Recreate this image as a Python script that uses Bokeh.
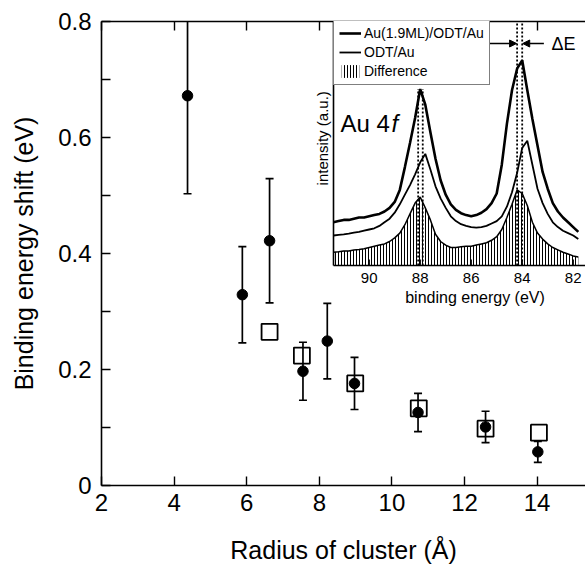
import numpy as np
from bokeh.plotting import figure
from bokeh.models import (Range1d, LinearAxis, FixedTicker, CustomJSTickFormatter,
                          Legend, LegendItem, Arrow, NormalHead)
from bokeh.core.properties import value
from bokeh.embed import file_html
from bokeh.resources import INLINE

# ---------------- main plot data ----------------
radius_exp = [4.37, 5.88, 6.63, 7.55, 8.22, 8.97, 10.72, 12.58, 14.02]
shift_exp = [0.672, 0.329, 0.422, 0.197, 0.249, 0.176, 0.126, 0.101, 0.058]
shift_err = [0.169, 0.083, 0.107, 0.050, 0.065, 0.045, 0.033, 0.027, 0.018]
radius_calc = [6.63, 7.52, 8.99, 10.74, 12.58, 14.05]
shift_calc = [0.265, 0.224, 0.176, 0.133, 0.098, 0.091]
x_ticks = [2, 4, 6, 8, 10, 12, 14]
y_ticks = [0, 0.2, 0.4, 0.6, 0.8]
y_minor = [0.1, 0.3, 0.5, 0.7]

# ---------------- inset data (Au 4f spectra) ----------------
energy = [91.4, 91.2, 91.0, 90.8, 90.6, 90.4, 90.2, 90.0, 89.8, 89.6,
          89.4, 89.2, 89.0, 88.8, 88.6, 88.4, 88.2, 88.0, 87.8, 87.6,
          87.4, 87.2, 87.0, 86.8, 86.6, 86.4, 86.2, 86.0, 85.8, 85.6,
          85.4, 85.2, 85.0, 84.8, 84.6, 84.4, 84.2, 84.0, 83.8, 83.6,
          83.4, 83.2, 83.0, 82.8, 82.6, 82.4, 82.2, 82.0, 81.8]
intensity_cluster = [0.180, 0.185, 0.190, 0.190, 0.195, 0.200, 0.200, 0.205, 0.210, 0.215,
                     0.225, 0.240, 0.265, 0.315, 0.410, 0.510, 0.615, 0.735, 0.670, 0.555,
                     0.445, 0.355, 0.295, 0.255, 0.232, 0.218, 0.210, 0.205, 0.210, 0.220,
                     0.235, 0.260, 0.300, 0.420, 0.590, 0.730, 0.820, 0.855, 0.730, 0.610,
                     0.500, 0.390, 0.320, 0.260, 0.225, 0.200, 0.180, 0.160, 0.140]
intensity_odt = [0.125, 0.128, 0.130, 0.133, 0.137, 0.140, 0.145, 0.150, 0.155, 0.165,
                 0.180, 0.195, 0.220, 0.255, 0.295, 0.335, 0.380, 0.430, 0.465, 0.400,
                 0.330, 0.280, 0.240, 0.205, 0.185, 0.172, 0.165, 0.160, 0.158, 0.160,
                 0.165, 0.175, 0.185, 0.205, 0.245, 0.305, 0.385, 0.490, 0.520, 0.420,
                 0.320, 0.260, 0.215, 0.180, 0.160, 0.145, 0.135, 0.125, 0.110]
intensity_diff = [0.055, 0.057, 0.060, 0.060, 0.065, 0.067, 0.070, 0.075, 0.080, 0.085,
                  0.090, 0.100, 0.115, 0.135, 0.170, 0.215, 0.260, 0.285, 0.240, 0.190,
                  0.130, 0.100, 0.085, 0.075, 0.075, 0.078, 0.080, 0.080, 0.085, 0.090,
                  0.095, 0.105, 0.120, 0.150, 0.200, 0.255, 0.315, 0.300, 0.250, 0.180,
                  0.135, 0.110, 0.090, 0.075, 0.065, 0.055, 0.048, 0.040, 0.035]
inset_ticks = [90, 88, 86, 84, 82]
peak_marks_5_2 = [88.08, 87.90]   # Au 4f5/2 dotted markers
peak_marks_7_2 = [84.20, 84.00]   # Au 4f7/2 dotted markers (Delta E)

FONT = "Liberation Sans"

# ---------------- layout ----------------
W, H = 585, 569
BL, BR, BT, BB = 101, 0, 21, 84
FW, FH = W - BL - BR, H - BT - BB
PX_PER_R = 36.3

# inset geometry (in frame pixels)
INSET_LEFT_PX = 232
INSET_BOTTOM_PX = 244
PX_PER_EV = 25.5
EV_LEFT = 91.4
PX_PER_I = 240.0
ix_start = EV_LEFT + INSET_LEFT_PX / PX_PER_EV
ix_end = EV_LEFT - (FW - INSET_LEFT_PX) / PX_PER_EV
iy_end = INSET_BOTTOM_PX / PX_PER_I
iy_start = -(FH - INSET_BOTTOM_PX) / PX_PER_I

p = figure(width=W, height=H, output_backend="svg", toolbar_location=None,
           x_range=Range1d(2, 2 + FW / PX_PER_R), y_range=Range1d(0, 0.8),
           min_border_left=BL, min_border_right=BR, min_border_top=BT, min_border_bottom=BB,
           x_axis_label="Radius of cluster (Å)", y_axis_label="Binding energy shift (eV)")
p.extra_x_ranges = {"ix": Range1d(ix_start, ix_end)}
p.extra_y_ranges = {"iy": Range1d(iy_start, iy_end)}
p.xgrid.visible = False
p.ygrid.visible = False
p.outline_line_color = None
p.background_fill_color = "white"
p.border_fill_color = "white"

for ax in (p.xaxis[0], p.yaxis[0]):
    ax.axis_line_width = 1.6
    ax.major_tick_line_width = 1.4
    ax.minor_tick_line_width = 1.4
    ax.major_tick_in = 9
    ax.major_tick_out = 0
    ax.minor_tick_out = 0
    ax.major_label_text_font = FONT
    ax.major_label_text_font_size = "24px"
    ax.major_label_text_color = "black"
    ax.axis_label_text_font = FONT
    ax.axis_label_text_font_size = "25px"
    ax.axis_label_text_font_style = "normal"
    ax.axis_label_text_color = "black"

p.xaxis[0].ticker = FixedTicker(ticks=x_ticks, minor_ticks=[])
p.xaxis[0].minor_tick_in = 0
p.xaxis[0].major_label_standoff = 8
p.xaxis[0].axis_label_standoff = 22
p.yaxis[0].ticker = FixedTicker(ticks=y_ticks, minor_ticks=y_minor)
p.yaxis[0].minor_tick_in = 9
p.yaxis[0].major_label_standoff = 10
p.yaxis[0].axis_label_standoff = 17
p.yaxis[0].formatter = CustomJSTickFormatter(code="return tick == 0 ? '0' : tick.toFixed(1);")

top_axis = LinearAxis(ticker=FixedTicker(ticks=x_ticks, minor_ticks=[]),
                      formatter=CustomJSTickFormatter(code="return '';"),
                      major_label_text_font_size="0px", major_label_standoff=0,
                      major_tick_in=9, major_tick_out=0, minor_tick_in=0, minor_tick_out=0,
                      axis_line_width=1.6, major_tick_line_width=1.4)
p.add_layout(top_axis, "above")

# ---------------- main data glyphs ----------------
lower = np.array(shift_exp) - np.array(shift_err)
upper = np.array(shift_exp) + np.array(shift_err)
p.segment(x0=radius_exp, y0=lower, x1=radius_exp, y1=upper, line_color="black", line_width=1.7)
p.scatter(x=radius_exp, y=lower, marker="dash", size=8, line_color="black", line_width=1.7)
p.scatter(x=radius_exp, y=upper, marker="dash", size=8, line_color="black", line_width=1.7)
p.scatter(x=radius_calc, y=shift_calc, marker="square", size=16, fill_color=None,
          line_color="black", line_width=1.8)
p.scatter(x=radius_exp, y=shift_exp, marker="circle", size=10.5, fill_color="black",
          line_color="black")

# ---------------- inset ----------------
kw = dict(x_range_name="ix", y_range_name="iy")
p.quad(left=[EV_LEFT], right=[ix_end], bottom=[0], top=[iy_end], fill_color="white",
       line_color=None, **kw)
r_diff = p.varea(x=energy, y1=[0] * len(energy), y2=intensity_diff, fill_color="white",
                 hatch_pattern="|", hatch_color="black", hatch_scale=3.0, hatch_weight=1.0, **kw)
p.line(x=energy, y=intensity_diff, line_color="black", line_width=1.5, **kw)
r_odt = p.line(x=energy, y=intensity_odt, line_color="black", line_width=1.8, **kw)
r_cl = p.line(x=energy, y=intensity_cluster, line_color="black", line_width=2.6, **kw)

# dotted peak markers
p.segment(x0=peak_marks_5_2, y0=[0, 0], x1=peak_marks_5_2,
          y1=[max(intensity_cluster[:25])] * 2, line_color="black", line_width=1.8,
          line_dash="2 2", **kw)
p.segment(x0=peak_marks_7_2, y0=[0, 0], x1=peak_marks_7_2, y1=[iy_end] * 2,
          line_color="black", line_width=1.8, line_dash="2 2", **kw)

# inset frame lines
p.segment(x0=[EV_LEFT, EV_LEFT], y0=[0, 0], x1=[EV_LEFT, ix_end], y1=[iy_end, 0],
          line_color="black", line_width=1.6, **kw)
p.segment(x0=inset_ticks, y0=[0] * len(inset_ticks), x1=inset_ticks,
          y1=[0.025] * len(inset_ticks), line_color="black", line_width=1.4, **kw)
p.text(x=inset_ticks, y=[-0.05] * len(inset_ticks), text=[str(t) for t in inset_ticks],
       text_font=value(FONT), text_font_size="15px", text_align="center",
       text_baseline="middle", text_color="black", **kw)
p.text(x=[(inset_ticks[0] + inset_ticks[-1]) / 2 - 0.15], y=[-0.135],
       text=["binding energy (eV)"], text_font=value(FONT), text_font_size="16px",
       text_align="center", text_baseline="middle", text_color="black", **kw)
p.text(x=[EV_LEFT + 0.43], y=[0.53], text=["intensity (a.u.)"], angle=np.pi / 2,
       text_font=value(FONT), text_font_size="15px", text_align="center",
       text_baseline="middle", text_color="black", **kw)
p.text(x=[EV_LEFT - 0.27], y=[0.59], text=["Au 4"], text_font=value(FONT),
       text_font_size="24px", text_align="left", text_baseline="middle",
       text_color="black", **kw)
p.text(x=[EV_LEFT - 0.27], y=[0.59], x_offset=51, text=["f"], text_font=value(FONT),
       text_font_size="24px", text_font_style="italic", text_align="left",
       text_baseline="middle", text_color="black", **kw)

# Delta E annotation
y_de = 0.925
p.add_layout(Arrow(end=NormalHead(size=7, fill_color="black", line_color="black"),
                   x_start=max(peak_marks_7_2) + 1.1, y_start=y_de,
                   x_end=max(peak_marks_7_2) + 0.02, y_end=y_de,
                   line_color="black", line_width=1.4, **kw))
p.add_layout(Arrow(end=NormalHead(size=7, fill_color="black", line_color="black"),
                   x_start=min(peak_marks_7_2) - 0.85, y_start=y_de,
                   x_end=min(peak_marks_7_2) - 0.02, y_end=y_de,
                   line_color="black", line_width=1.4, **kw))
p.text(x=[min(peak_marks_7_2) - 1.15], y=[y_de], text=["ΔE"], text_font=value(FONT),
       text_font_size="18px", text_align="left", text_baseline="middle",
       text_color="black", **kw)

legend = Legend(items=[LegendItem(label="Au(1.9ML)/ODT/Au", renderers=[r_cl]),
                       LegendItem(label="ODT/Au", renderers=[r_odt]),
                       LegendItem(label="Difference", renderers=[r_diff])],
                location=(INSET_LEFT_PX, FH - 64), orientation="vertical",
                label_text_font=FONT, label_text_font_size="14px",
                label_text_color="black", border_line_color="black",
                border_line_width=1.2, background_fill_color="white",
                background_fill_alpha=1.0, padding=5, spacing=3, margin=0,
                glyph_width=22, glyph_height=16, label_height=16, label_standoff=3)
p.add_layout(legend, "center")

open("out.html", "w").write(file_html(p, INLINE))
